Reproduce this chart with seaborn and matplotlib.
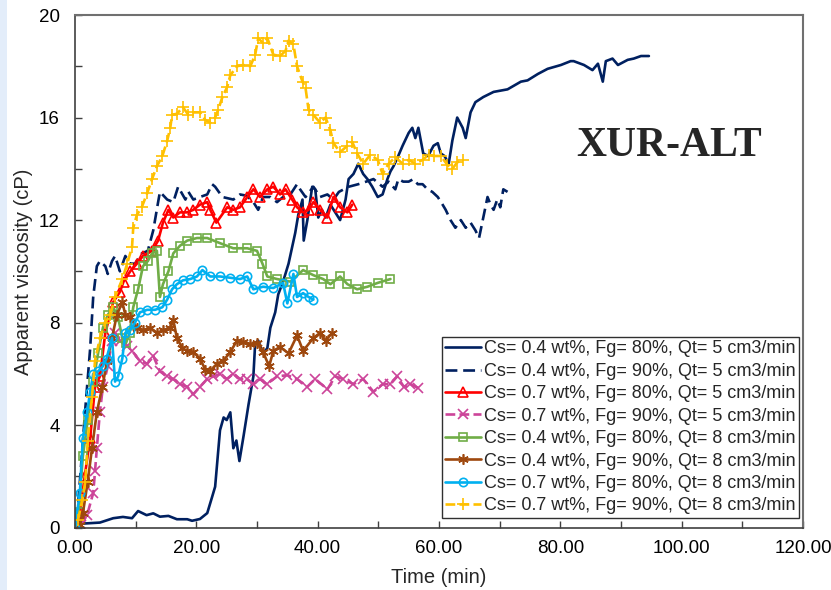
import matplotlib
matplotlib.use('Agg')
import matplotlib.pyplot as plt
import seaborn as sns
from matplotlib.patches import Rectangle

sns.set_style('ticks')
plt.rcParams['font.family'] = ['Liberation Sans', 'DejaVu Sans']

# ---------------- data ----------------
labels = [
    "Cs= 0.4 wt%, Fg= 80%, Qt= 5 cm3/min",
    "Cs= 0.4 wt%, Fg= 90%, Qt= 5 cm3/min",
    "Cs= 0.7 wt%, Fg= 80%, Qt= 5 cm3/min",
    "Cs= 0.7 wt%, Fg= 90%, Qt= 5 cm3/min",
    "Cs= 0.4 wt%, Fg= 80%, Qt= 8 cm3/min",
    "Cs= 0.4 wt%, Fg= 90%, Qt= 8 cm3/min",
    "Cs= 0.7 wt%, Fg= 80%, Qt= 8 cm3/min",
    "Cs= 0.7 wt%, Fg= 90%, Qt= 8 cm3/min",
]

t1 = [0.5, 2, 4.1, 6.3, 7.9, 9.4, 10.4, 11.8, 12.9, 14.0, 15.4, 16.8, 18.5, 19.3, 20.6, 21.8, 22.6, 23.1,
      23.9, 24.5, 25.0, 25.6, 26.1, 26.6, 27.1, 27.8, 28.6, 29.4, 29.7, 30.2, 31.0, 31.7, 32.2, 33.0, 33.5,
      34.3, 35.2, 36.3, 36.8, 37.5, 37.7, 38.3, 39.1, 39.6, 40.1, 40.7, 41.3, 42.1, 42.9, 43.7, 44.6, 45.1,
      45.9, 46.7, 47.5, 48.2, 49.0, 49.9, 50.7, 51.5, 52.0, 52.5, 53.1, 54.0, 55.0, 55.6, 56.1, 56.6, 57.4,
      58.2, 59.1, 59.8, 60.3, 60.9, 61.6, 62.2, 63.0, 63.9, 64.4, 65.2, 66.0, 67.3, 69.0, 71.3, 73.5, 74.6,
      76.3, 77.9, 80.1, 81.7, 82.2, 83.9, 85.3, 86.2, 87.0, 87.5, 88.6, 89.5, 90.3, 91.1, 92.1, 93.3, 94.6]
v1 = [0.15, 0.17, 0.2, 0.37, 0.42, 0.37, 0.65, 0.49, 0.56, 0.43, 0.46, 0.33, 0.33, 0.27, 0.34, 0.57, 1.2, 1.6,
      3.8, 4.3, 4.2, 4.5, 3.1, 3.4, 2.6, 3.6, 4.8, 5.9, 7.2, 7.3, 6.8, 7.0, 7.8, 8.4, 9.1,
      9.6, 10.3, 11.5, 12.2, 12.8, 11.2, 12.0, 13.3, 13.2, 12.1, 12.4, 12.1, 12.6, 12.3, 12.0, 12.8, 13.6,
      13.8, 14.2, 13.8, 13.6, 13.3, 12.9, 13.0, 13.6, 13.9, 14.1, 14.4, 14.9, 15.4, 15.6, 15.2, 15.6, 14.6,
      14.5, 14.9, 15.0, 14.6, 14.5, 14.2, 15.1, 16.0, 15.6, 15.2, 16.2, 16.6, 16.8, 17.0, 17.1, 17.4, 17.45,
      17.7, 17.9, 18.05, 18.2, 18.2, 18.05, 17.85, 18.1, 17.4, 18.2, 18.3, 18.05, 18.15, 18.25, 18.3, 18.4, 18.4]

t2 = [0.3, 0.8, 1.65, 2.5, 3.0, 3.6, 4.1, 5.0, 5.4, 6.1, 6.6, 7.4, 8.3, 9.1, 9.9, 11.0, 12.0, 12.9, 13.7, 14.0,
      15.2, 16.2, 17.0, 18.2, 18.7, 19.5, 20.6, 21.8, 22.6, 23.1, 24.3, 25.2, 26.1, 27.2, 28.3, 29.4, 30.2,
      31.0, 32.2, 33.3, 34.3, 35.5, 36.6, 37.1, 38.0, 39.3, 40.4, 41.6, 42.6, 43.5, 45.1, 46.7, 48.0, 49.2,
      50.7, 51.7, 52.8, 53.3, 54.1, 55.0, 55.8, 56.5, 57.3, 58.1, 58.9, 59.8, 60.6, 61.1, 61.9, 62.7, 63.6,
      64.4, 65.2, 66.0, 66.6, 67.3, 68.0, 68.5, 69.0, 69.6, 70.1, 70.6, 71.3]
v2 = [0.3, 1.8, 4.5, 7.0, 9.0, 10.2, 10.4, 10.2, 9.9, 10.4, 10.6, 10.0, 10.6, 10.3, 10.3, 10.7, 10.8, 11.6, 12.7, 13.1,
      12.8, 12.7, 13.3, 12.8, 13.1, 12.8, 12.9, 13.0, 13.4, 13.3, 12.9, 12.85, 12.8, 13.0, 12.95, 12.7, 12.4,
      12.9, 12.9, 12.7, 12.9, 13.0, 13.4, 13.2, 12.9, 13.3, 12.9, 13.0, 12.8, 13.1, 13.3, 13.4, 13.5, 13.6,
      13.3, 13.5, 13.2, 13.6, 13.5, 13.5, 13.6, 13.4, 13.4, 13.2, 13.1, 12.9, 12.6, 12.4, 12.0, 11.7, 12.0,
      11.7, 11.9, 11.6, 11.3, 12.1, 12.9, 12.6, 12.4, 12.8, 12.5, 13.2, 13.1]

t3 = [0.5, 0.8, 1.6, 2.5, 3.3, 4.1, 5.0, 6.3, 7.4, 8.0, 9.1, 10.2, 11.2, 12.7, 13.7, 14.5, 15.4, 16.2, 17.3,
      18.5, 19.5, 20.6, 21.8, 22.3, 23.3, 25.1, 26.1, 27.2, 28.4, 29.4, 30.5, 31.7, 32.7, 33.8, 34.7, 35.8,
      36.6, 37.6, 38.5, 39.3, 40.4, 41.6, 42.6, 43.7, 44.9, 45.7]
v3 = [0.0, 0.57, 2.0, 3.5, 5.5, 5.9, 7.6, 8.8, 9.2, 9.6, 10.0, 10.3, 10.6, 10.8, 11.2, 11.9, 12.4, 12.1, 12.3,
      12.3, 12.4, 12.6, 12.7, 12.4, 11.9, 12.5, 12.4, 12.5, 12.9, 13.2, 12.9, 13.2, 13.3, 13.0, 13.2, 12.8,
      12.5, 12.3, 12.4, 12.7, 12.4, 12.1, 12.9, 12.5, 12.3, 12.6]

t4 = [1.0, 2.0, 3.0, 3.3, 3.6, 4.1, 4.6, 5.4, 6.1, 6.6, 7.4, 8.6, 9.4, 10.7, 11.9, 12.9, 14.0, 15.2, 16.2,
      17.3, 18.5, 19.5, 20.6, 21.8, 22.8, 23.9, 25.0, 26.1, 27.2, 28.3, 29.4, 30.5, 31.6, 33.3, 35.0, 36.6,
      38.3, 39.6, 41.6, 42.9, 44.2, 45.9, 47.5, 49.2, 50.7, 52.0, 53.1, 54.2, 55.3, 56.6]
v4 = [0.1, 0.5, 1.35, 2.2, 3.1, 4.5, 5.5, 6.3, 7.3, 7.6, 7.3, 7.1, 6.9, 6.5, 6.4, 6.7, 6.1, 5.9, 5.8,
      5.6, 5.5, 5.2, 5.5, 5.8, 5.9, 6.0, 5.8, 6.0, 5.8, 5.8, 5.6, 5.8, 5.6, 5.9, 5.95, 5.8,
      5.5, 5.8, 5.4, 5.9, 5.8, 5.6, 5.8, 5.3, 5.6, 5.6, 5.9, 5.5, 5.6, 5.45]

t5 = [0.0, 0.6, 1.3, 2.1, 3.0, 3.8, 4.6, 5.4, 6.3, 7.1, 7.8, 8.4, 9.0, 9.6, 10.4, 11.2, 12.0, 12.7, 13.5, 14.0,
      14.5, 15.4, 16.2, 17.3, 18.5, 20.1, 21.8, 23.9, 26.1, 28.4, 30.0, 30.9, 31.7, 33.3, 35.5, 37.6, 39.3,
      40.9, 42.1, 43.7, 44.9, 46.5, 48.2, 49.9, 52.0]
v5 = [0.0, 0.6, 2.8, 4.2, 5.7, 6.8, 7.8, 8.3, 8.6, 8.2, 7.4, 7.2, 7.6, 8.6, 9.3, 10.2, 10.4, 10.7, 10.8, 9.0,
      9.5, 10.0, 10.7, 11.0, 11.2, 11.3, 11.3, 11.1, 10.9, 10.9, 10.8, 10.3, 9.8, 9.7, 9.6, 10.05, 9.85,
      9.7, 9.5, 9.8, 9.5, 9.3, 9.4, 9.55, 9.7]

t6 = [0.8, 1.3, 2.1, 2.8, 3.6, 4.5, 5.3, 6.1, 6.9, 7.8, 8.3, 9.1, 10.2, 11.2, 12.4, 13.5, 14.5, 15.7, 16.2,
      16.8, 17.7, 18.5, 19.5, 20.6, 21.5, 22.3, 23.4, 24.4, 25.6, 26.7, 27.7, 28.9, 30.0, 31.0, 32.0, 32.7,
      33.8, 35.2, 36.6, 37.6, 39.3, 40.4, 41.3, 42.4]
v6 = [0.1, 0.57, 1.8, 3.1, 4.5, 5.5, 6.5, 7.4, 8.3, 8.8, 8.3, 8.2, 7.8, 7.7, 7.8, 7.6, 7.7, 7.8, 8.1,
      7.4, 7.0, 6.9, 6.85, 6.6, 6.15, 6.1, 6.4, 6.5, 6.85, 7.3, 7.25, 7.15, 7.2, 6.85, 6.3, 6.9,
      7.05, 6.8, 7.5, 6.9, 7.4, 7.6, 7.3, 7.6]

t7 = [0.0, 0.8, 1.3, 2.0, 2.5, 3.0, 3.8, 4.6, 5.2, 6.1, 6.6, 7.1, 7.8, 8.3, 9.1, 9.9, 10.7, 11.9, 13.2, 14.4,
      15.2, 16.0, 16.8, 17.8, 19.0, 20.1, 21.0, 22.3, 23.9, 25.6, 27.2, 28.4, 29.4, 31.0, 32.7, 34.3, 35.0,
      36.0, 36.6, 37.6, 38.5, 39.3]
v7 = [0.0, 1.35, 3.5, 4.5, 5.3, 6.0, 6.1, 6.3, 6.6, 7.4, 5.7, 5.9, 6.6, 7.6, 7.7, 8.0, 8.4, 8.5, 8.5, 8.6,
      8.9, 9.3, 9.5, 9.65, 9.7, 9.8, 10.05, 9.8, 9.8, 9.75, 9.7, 9.8, 9.3, 9.4, 9.35, 9.55, 8.75,
      9.9, 9.0, 9.15, 9.0, 8.9]

t8 = [0.5, 1.2, 1.7, 2.1, 2.8, 3.3, 4.1, 5.0, 5.8, 6.6, 7.8, 8.6, 9.4, 9.6, 10.2, 11.0, 11.9, 12.7, 13.5,
      14.4, 15.2, 15.7, 16.0, 16.8, 17.8, 18.7, 19.5, 20.6, 21.5, 22.3, 23.1, 23.6, 24.3, 25.1, 25.6, 26.7,
      27.7, 28.9, 29.7, 30.2, 31.0, 31.7, 32.7, 33.8, 34.7, 35.2, 36.0, 36.6, 37.5, 38.0, 38.5, 39.3, 40.4,
      41.3, 42.1, 42.6, 43.7, 44.9, 45.7, 46.5, 47.5, 48.7, 49.9, 50.7, 51.7, 52.8, 54.0, 55.0, 56.1, 57.3,
      58.3, 59.1, 60.3, 61.4, 62.2, 63.0, 63.9]
v8 = [0.3, 1.1, 1.8, 3.4, 5.1, 6.5, 7.4, 8.0, 8.3, 9.0, 9.7, 10.3, 10.95, 11.7, 12.2, 12.5, 13.05, 13.6, 14.1,
      14.5, 15.1, 15.6, 16.1, 16.15, 16.4, 16.1, 16.2, 16.2, 15.9, 15.8, 16.0, 16.3, 16.8, 17.2, 17.65, 18.0,
      18.05, 18.0, 18.45, 19.1, 18.9, 19.1, 18.45, 18.4, 18.6, 19.0, 18.85, 18.0, 17.4, 17.15, 16.3, 16.1, 15.8,
      16.0, 15.5, 15.0, 14.65, 14.9, 15.05, 14.6, 14.2, 14.55, 14.35, 13.8, 14.2, 14.45, 14.2, 14.35, 14.2, 14.35,
      14.55, 14.5, 14.5, 14.15, 14.0, 14.25, 14.35]

times = [t1, t2, t3, t4, t5, t6, t7, t8]
values = [v1, v2, v3, v4, v5, v6, v7, v8]

x_ticks = [0, 10, 20, 30, 40, 50, 60, 70, 80, 90, 100, 110, 120]
y_ticks = [0, 2, 4, 6, 8, 10, 12, 14, 16, 18, 20]

# ---------------- styles ----------------
colors = ['#002060', '#002060', '#FF0000', '#CC4499', '#70AD47', '#9E480E', '#00B0F0', '#FFC000']
lstyles = ['-', (0, (4.5, 2.2)), '-', '--', '-', '-', '-', '--']
markers = [None, None, '^', 'x', 's', (6, 2, 0), 'o', '+']
msizes = [0, 0, 6.5, 7, 6, 7.5, 6, 8]

fig = plt.figure(figsize=(8.31, 5.90), dpi=100)
fig.patches.append(Rectangle((0, 0), 7 / 831, 1, transform=fig.transFigure,
                             facecolor='#E3EDFA', edgecolor='none', zorder=-5))
ax = fig.add_axes([75 / 831, 1 - 527.7 / 590, 728 / 831, 512.7 / 590])

for i in range(8):
    kw = dict(color=colors[i], linestyle=lstyles[i], lw=1.9, label=labels[i],
              sort=False, estimator=None, ax=ax)
    if markers[i] is not None:
        kw.update(marker=markers[i], markersize=msizes[i], markerfacecolor='none',
                  markeredgecolor=colors[i], markeredgewidth=1.2)
    sns.lineplot(x=times[i], y=values[i], **kw)

ax.set_xlim(0, 120)
ax.set_ylim(0, 20)
ax.set_xticks(x_ticks)
ax.set_xticklabels([f"{v:.2f}" if v % 20 == 0 else "" for v in x_ticks])
ax.set_yticks(y_ticks)
ax.set_yticklabels([f"{v}" if v % 4 == 0 else "" for v in y_ticks])
ax.tick_params(axis='both', direction='in', length=5, width=1, colors='#404040',
               labelcolor='black', labelsize=13.5)
ax.tick_params(axis='y', pad=11)
ax.tick_params(axis='x', pad=9)

for s in ['left', 'bottom']:
    ax.spines[s].set_color('#404040')
    ax.spines[s].set_linewidth(1.2)
for s in ['top', 'right']:
    ax.spines[s].set_color('#707070')
    ax.spines[s].set_linewidth(1.5)

ax.set_xlabel('Time (min)', fontsize=14.5, labelpad=8)
ax.set_ylabel('Apparent viscosity (cP)', fontsize=14.5, labelpad=4)

ax.text(0.816, 0.745, 'XUR-ALT', transform=ax.transAxes, ha='center', va='center',
        fontsize=30, fontweight='bold', family=['Liberation Serif', 'DejaVu Serif'])

leg = ax.legend(loc='lower right', bbox_to_anchor=(0.995, 0.019), fontsize=13,
                frameon=True, fancybox=False, edgecolor='#303030', framealpha=1,
                borderpad=0.2, labelspacing=0.3, handlelength=2.0, handletextpad=0.15,
                borderaxespad=0)
leg.get_frame().set_linewidth(1.0)

fig.savefig('out.png', dpi=100)
